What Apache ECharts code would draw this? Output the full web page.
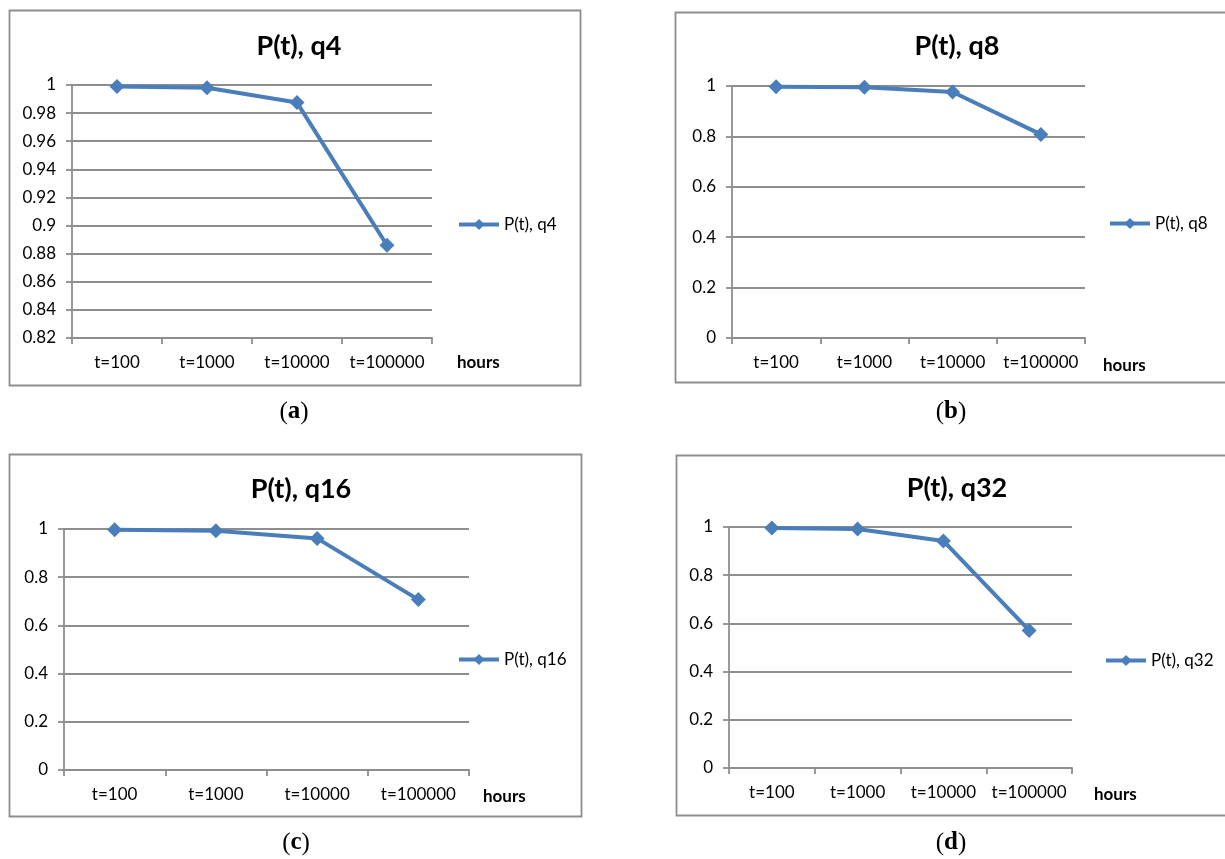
<!DOCTYPE html>
<html>
<head>
<meta charset="utf-8">
<title>P(t) reliability</title>
<script src="https://cdn.jsdelivr.net/npm/echarts@6/dist/echarts.min.js"></script>
<style>
  html, body { margin: 0; padding: 0; background: #fff; }
  #chart { width: 1225px; height: 859px; }
</style>
</head>
<body>
<div id="chart"></div>
<script>
// Categories (operating time) and reliability values per configuration
const categories = ['t=100', 't=1000', 't=10000', 't=100000'];
const q4 = [0.999, 0.998, 0.9875, 0.886];
const q8 = [0.997, 0.995, 0.976, 0.808];
const q16 = [0.997, 0.993, 0.961, 0.707];
const q32 = [0.996, 0.992, 0.942, 0.571];

const seriesNames = ['P(t), q4', 'P(t), q8', 'P(t), q16', 'P(t), q32'];
const seriesData = [q4, q8, q16, q32];
const captions = ['a', 'b', 'c', 'd'];
const xUnit = 'hours';

// y-axis ranges for each panel
const yMin = [0.82, 0, 0, 0];
const yMax = [1, 1, 1, 1];
const yStep = [0.02, 0.2, 0.2, 0.2];

// panel layout
const panels = [
  { grid: { left: 72, top: 85, width: 360, height: 253 }, frame: [9, 10, 571, 375], title: [294, 28], legend: [457, 216], unit: [457, 363], caption: [294, 412] },
  { grid: { left: 732, top: 86, width: 353, height: 252 }, frame: [675, 12, 600, 370], title: [952, 28], legend: [1108, 215], unit: [1103, 366], caption: [951, 412] },
  { grid: { left: 64, top: 529, width: 405, height: 241 }, frame: [9, 454, 572, 362], title: [296, 471], legend: [457, 651], unit: [483, 797], caption: [296, 843] },
  { grid: { left: 729, top: 527, width: 343, height: 241 }, frame: [676, 455, 600, 360], title: [952, 470], legend: [1104, 652], unit: [1094, 795], caption: [951, 843] }
];

const FONT = 'Lato';
const LINE_COLOR = '#4a7ebb';
const GRAY = '#8e8e8e';

const option = {
  backgroundColor: '#ffffff',
  animation: false,
  title: panels.map((p, i) => ({
    text: seriesNames[i],
    left: p.title[0],
    top: p.title[1],
    textAlign: 'center',
    textStyle: { fontFamily: FONT, fontSize: 27, fontWeight: 'bold', color: '#000' }
  })),
  legend: panels.map((p, i) => ({
    data: [seriesNames[i]],
    left: p.legend[0],
    top: p.legend[1],
    padding: 0,
    orient: 'vertical',
    itemWidth: 40,
    itemHeight: 14,
    itemStyle: { color: LINE_COLOR },
    lineStyle: { color: LINE_COLOR, width: 4 },
    textStyle: { fontFamily: FONT, fontSize: 17, color: '#000' },
    selectedMode: false
  })),
  grid: panels.map(p => Object.assign({ containLabel: false }, p.grid)),
  xAxis: panels.map((p, i) => ({
    type: 'category',
    gridIndex: i,
    data: categories,
    boundaryGap: true,
    axisLine: { show: true, lineStyle: { color: GRAY, width: 1.8 } },
    axisTick: { show: true, length: 6, alignWithLabel: false, lineStyle: { color: GRAY, width: 1.8 } },
    axisLabel: { fontFamily: FONT, fontSize: 17, color: '#000', margin: 16, interval: 0 },
    splitLine: { show: false }
  })),
  yAxis: panels.map((p, i) => ({
    type: 'value',
    gridIndex: i,
    min: yMin[i],
    max: yMax[i],
    interval: yStep[i],
    axisLine: { show: true, lineStyle: { color: GRAY, width: 1.8 } },
    axisTick: { show: true, length: 6, lineStyle: { color: GRAY, width: 1.8 } },
    axisLabel: { fontFamily: FONT, fontSize: 17, color: '#000', margin: 16,
      formatter: v => String(parseFloat(v.toFixed(4))) },
    splitLine: { show: true, lineStyle: { color: GRAY, width: 1.8 } }
  })),
  series: seriesData.map((d, i) => ({
    name: seriesNames[i],
    type: 'line',
    xAxisIndex: i,
    yAxisIndex: i,
    data: d,
    symbol: 'diamond',
    symbolSize: 15,
    showAllSymbol: true,
    lineStyle: { color: LINE_COLOR, width: 4 },
    itemStyle: { color: LINE_COLOR },
    z: 3
  })),
  graphic: [].concat(
    // outer frame around each panel
    panels.map(p => ({
      type: 'rect',
      shape: { x: p.frame[0] + 0.5, y: p.frame[1] + 0.5, width: p.frame[2], height: p.frame[3] },
      style: { fill: 'none', stroke: GRAY, lineWidth: 1.8 },
      silent: true,
      z: -10
    })),
    // unit label to the right of the category axis
    panels.map(p => ({
      type: 'text',
      x: p.unit[0],
      y: p.unit[1],
      style: {
        text: xUnit,
        fontFamily: FONT,
        fontSize: 17,
        fontWeight: 'bold',
        fill: '#000',
        align: 'left',
        verticalAlign: 'middle'
      }
    })),
    // sub-figure captions
    panels.map((p, i) => ({
      type: 'text',
      x: p.caption[0],
      y: p.caption[1],
      style: {
        text: '({b|' + captions[i] + '})',
        rich: { b: { fontWeight: 'bold', fontFamily: 'Liberation Serif', fontSize: 25, fill: '#000' } },
        fontFamily: 'Liberation Serif',
        fontSize: 25,
        fill: '#000',
        align: 'center',
        verticalAlign: 'middle'
      }
    }))
  )
};

const chart = echarts.init(document.getElementById('chart'), null, { renderer: 'canvas' });
chart.setOption(option);
</script>
</body>
</html>
